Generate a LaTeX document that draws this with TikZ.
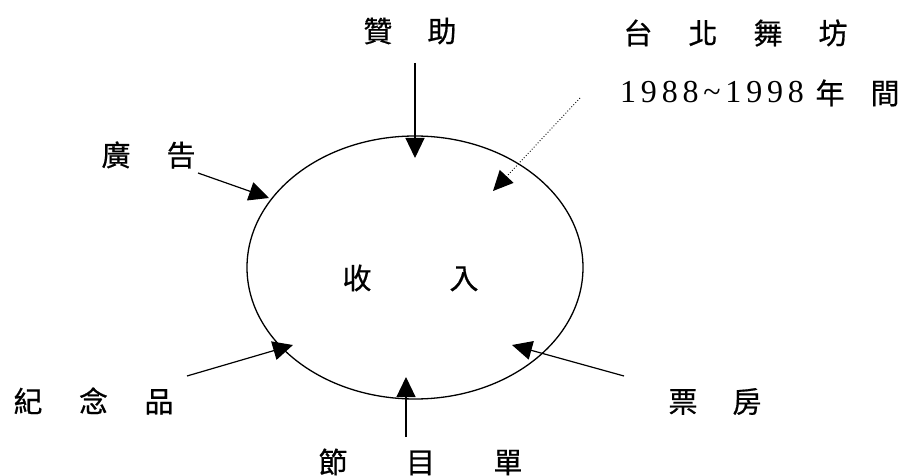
\documentclass[tikz,border=0pt]{standalone}
\usepackage{fontspec}
\setmainfont{Noto Sans CJK TC}[FakeBold=0.6]
\newfontfamily\digitfont{Liberation Serif}[LetterSpace=15]
\usetikzlibrary{arrows.meta,shapes.geometric}
\begin{document}
\begin{tikzpicture}[x=1pt,y=-1pt,
  lbl/.style={inner sep=0pt, font=\fontsize{29}{29}\selectfont},
  arr/.style={line width=1.2pt, -{Triangle[length=20pt,width=19pt]}},
  dotarr/.style={line width=0.9pt, dotted, -{Triangle[length=20pt,width=19pt,line width=0pt]}}]
\useasboundingbox (0,0) rectangle (906,476);
\node[draw, ellipse, minimum width=336pt, minimum height=263pt, line width=1.3pt, inner sep=0pt] (inc) at (415,267.5) {};
% labels
\node[lbl] (zz) at (410,31) {贊\hspace{35pt}助};
\node[lbl] (tb) at (735.5,33) {台\hspace{36pt}北\hspace{36pt}舞\hspace{36pt}坊};
\node[lbl, anchor=base west, font=\digitfont\fontsize{32}{32}\selectfont] (yr) at (620,103) {1988\symbol{126}1998};
\node[lbl, anchor=base] (yn) at (830,104) {年};
\node[lbl, anchor=base] (jian) at (885,104) {間};
\node[lbl] (gg) at (148.5,155) {廣\hspace{36pt}告};
\node[lbl] (sr) at (410.5,278) {收\hspace{78pt}入};
\node[lbl] (jn) at (93.5,401) {紀\hspace{36.5pt}念\hspace{36.5pt}品};
\node[lbl] (jm) at (420.5,462) {節\hspace{58.5pt}目\hspace{58.5pt}單};
\node[lbl] (pf) at (715,401.5) {票\hspace{35pt}房};
% arrow ends
\coordinate (s1) at (415,63);   \coordinate (t1) at (415,158);
\coordinate (s2) at (580,98);   \coordinate (t2) at (493,191);
\coordinate (s3) at (198,173);  \coordinate (t3) at (269,198);
\coordinate (s4) at (187,376);  \coordinate (t4) at (293,345);
\coordinate (s5) at (406,437);  \coordinate (t5) at (406,377);
\coordinate (s6) at (624,376);  \coordinate (t6) at (512,345);
\draw[arr] (s1) -- (t1);
\draw[dotarr] (s2) -- (t2);
\draw[arr] (s3) -- (t3);
\draw[arr] (s4) -- (t4);
\draw[arr] (s5) -- (t5);
\draw[arr] (s6) -- (t6);
\end{tikzpicture}
\end{document}
